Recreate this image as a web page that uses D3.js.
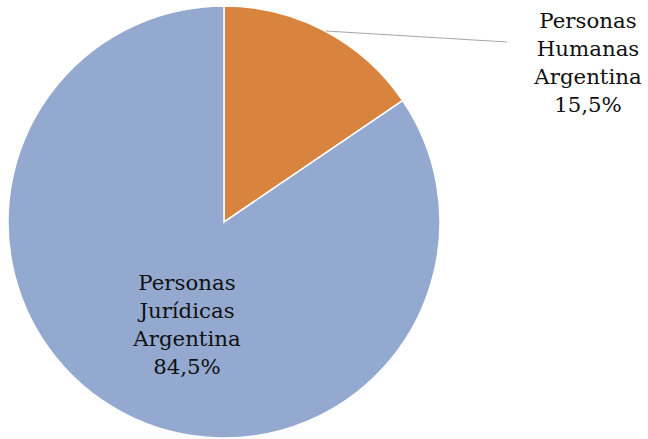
<!DOCTYPE html>
<html><head><meta charset="utf-8">
<script src="https://cdn.jsdelivr.net/npm/d3@7/dist/d3.min.js"></script>
<style>body{margin:0;background:#fff}svg{display:block}</style>
</head><body>
<script>
const categories = ["Personas Humanas Argentina", "Personas Jurídicas Argentina"];
const labelLines = [["Personas","Humanas","Argentina"],["Personas","Jurídicas","Argentina"]];
const values = [15.5, 84.5];
const valueLabels = ["15,5%", "84,5%"];
const colors = ["#D9843E", "#94A9D0"];

const W = 648, H = 439;
const cx = 224, cy = 222, R = 216;
const svg = d3.select("body").append("svg").attr("width", W).attr("height", H);
const g = svg.append("g").attr("transform", `translate(${cx},${cy})`);
const pie = d3.pie().sort(null).value(d => d)(values);
const arc = d3.arc().innerRadius(0).outerRadius(R);
g.selectAll("path").data(pie).join("path")
  .attr("d", arc).attr("fill", (d,i) => colors[i])
  .attr("stroke", "#fff").attr("stroke-width", 1.5);

const font = "'DejaVu Serif', serif";
svg.append("line")
  .attr("x1", 326).attr("y1", 31).attr("x2", 507).attr("y2", 42)
  .attr("stroke", "#A6A6A6").attr("stroke-width", 1);

function label(i, x, y0) {
  const lines = labelLines[i].concat([valueLabels[i]]);
  const t = svg.append("text").attr("font-family", font).attr("font-size", 21.3)
    .attr("fill", "#111").attr("text-anchor", "middle");
  lines.forEach((s, k) => t.append("tspan").attr("x", x).attr("y", y0 + k*28).text(s));
}
label(0, 588, 28);
label(1, 187, 290);
</script>
</body></html>
